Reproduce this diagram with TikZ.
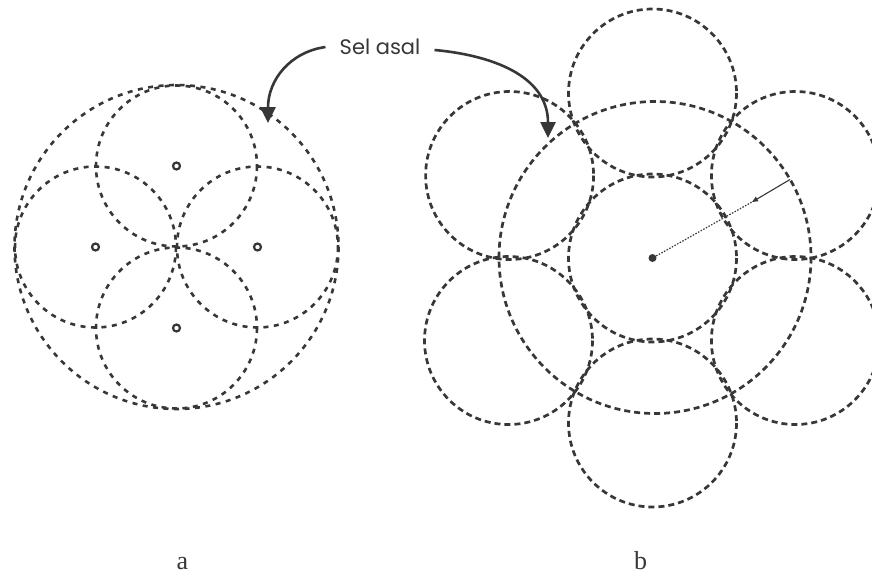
\documentclass[tikz,border=0pt]{standalone}
\usepackage{fontspec}
\newfontfamily\labelfont{Poppins}
\newfontfamily\capfont{Liberation Serif}
\usetikzlibrary{arrows.meta}
\definecolor{ink}{RGB}{55,55,55}
\begin{document}
\begin{tikzpicture}[x=1pt,y=-1pt,
  cella/.style={draw=ink, line width=2.6pt, dash pattern=on 5pt off 5.5pt},
  cellb/.style={draw=ink, line width=2.7pt, dash pattern=on 6pt off 4pt},
  ring/.style={circle, draw=ink, fill=white, line width=2.2pt, inner sep=0pt, minimum size=7pt},
  hub/.style={circle, fill=ink, inner sep=0pt, minimum size=8pt},
  callout/.style={draw=ink, line width=2.6pt, -{Triangle[length=16pt,width=15pt]}},
  caption/.style={font=\capfont\fontsize{26}{30}\selectfont, text=ink, anchor=base, inner sep=0pt},
]
\useasboundingbox (0,0) rectangle (872,573);

% ---------- figure a ----------
\coordinate (ca) at (176.5,247);
\node[ring] (at) at (176.5,166) {};
\node[ring] (al) at (95.5,247) {};
\node[ring] (ar) at (257.5,247) {};
\node[ring] (ab) at (176.5,328) {};
\draw[cella] (ca) circle[radius=162];
\foreach \n in {at,al,ar,ab} \draw[cella] (\n.center) circle[radius=80.5];

% ---------- figure b ----------
\node[hub] (cb) at (652.5,258) {};
\coordinate (bc) at (655,257.5);
\coordinate (bt) at (652.5,93);
\coordinate (bb) at (652.5,423);
\coordinate (bul) at (509.6,175.5);
\coordinate (bur) at (795.4,175.5);
\coordinate (bll) at (508.5,340.5);
\coordinate (blr) at (795.4,340.5);
\draw[cellb] (bc) circle[radius=156];
\draw[cellb] (cb.center) circle[radius=84];
\foreach \n in {bt,bb,bul,bur,bll,blr} \draw[cellb] (\n) circle[radius=84];

% radius marker
\coordinate (rend) at (790,179.5);
\coordinate (rmid) at (752,202);
\draw[ink, line width=1.2pt, dash pattern=on 1.5pt off 1.5pt] (cb) -- (rmid);
\draw[ink, line width=1.1pt, -{Triangle[length=6pt,width=5pt]}] (rend) -- (rmid);

% ---------- callout ----------
\node[font=\labelfont\fontsize{21}{25}\selectfont, text=ink, inner xsep=14pt, inner ysep=2pt] (sel) at (380,47) {Sel asal};
\coordinate (tipa) at (268,123);
\coordinate (tipb) at (548,138);
\draw[callout] (sel.west) .. controls (290,52) and (268,80) .. (tipa);
\draw[callout] ([yshift=-3pt]sel.east) .. controls (490,55) and (548,75) .. (tipb);

% ---------- captions ----------
\node[caption] (la) at (182.5,569) {a};
\node[caption] (lb) at (640.5,569) {b};
\end{tikzpicture}
\end{document}
